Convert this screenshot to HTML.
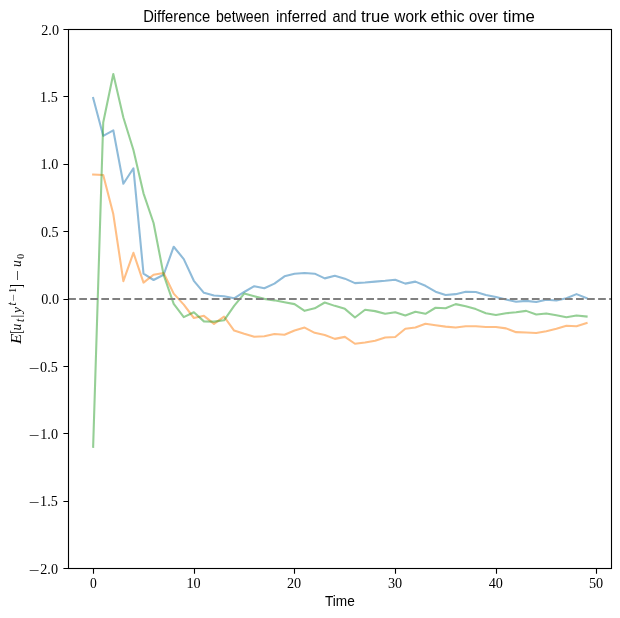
<!DOCTYPE html>
<html lang="en">
<head>
<meta charset="utf-8">
<title>Difference between inferred and true work ethic over time</title>
<style>
html,body{margin:0;padding:0;background:#fff;}
body{width:620px;height:618px;overflow:hidden;}
svg{display:block;}
.ser{fill:none;stroke-width:2.083;stroke-opacity:0.5;stroke-linejoin:round;stroke-linecap:square;}
.sans{font-family:"Liberation Sans","DejaVu Sans",sans-serif;fill:#000;}
.serif{font-family:"Liberation Serif","DejaVu Serif",serif;fill:#000;}
.it{font-style:italic;}
</style>
</head>
<body>
<svg width="620" height="618" viewBox="0 0 620 618">
<rect x="0" y="0" width="620" height="618" fill="#ffffff"/>
<defs><clipPath id="ax"><rect x="68.5" y="29.5" width="543.0" height="539.0"/></clipPath></defs>
<g clip-path="url(#ax)">
<polyline class="ser" stroke="#1f77b4" points="93.15,98.09 103.22,135.82 113.29,130.29 123.36,183.79 133.43,168.29 143.50,273.67 153.57,280.00 163.64,274.75 173.71,246.72 183.78,259.11 193.85,280.81 203.92,292.80 213.99,295.50 224.06,296.31 234.13,298.33 244.20,291.99 254.27,286.20 264.34,288.22 274.41,283.64 284.48,276.36 294.55,273.67 304.62,272.99 314.69,273.67 324.76,278.38 334.83,275.82 344.90,278.65 354.97,283.10 365.04,282.56 375.11,281.62 385.18,280.81 395.25,279.73 405.32,283.64 415.39,281.62 425.46,285.79 435.53,291.72 445.60,294.96 455.67,294.15 465.74,291.72 475.81,291.99 485.88,294.96 495.95,296.98 506.02,299.54 516.09,301.69 526.16,300.89 536.23,301.96 546.30,299.67 556.37,300.48 566.44,298.33 576.51,294.15 586.58,298.06"/>
<polyline class="ser" stroke="#ff7f0e" points="93.15,174.49 103.22,175.03 113.29,214.11 123.36,281.21 133.43,252.78 143.50,282.56 153.57,274.75 163.64,272.99 173.71,293.61 183.78,304.66 193.85,318.00 203.92,315.84 213.99,323.93 224.06,316.65 234.13,330.53 244.20,333.77 254.27,336.73 264.34,336.19 274.41,334.04 284.48,334.71 294.55,330.53 304.62,327.57 314.69,332.82 324.76,334.98 334.83,338.89 344.90,336.86 354.97,343.74 365.04,342.52 375.11,340.77 385.18,337.54 395.25,337.00 405.32,328.78 415.39,327.57 425.46,323.79 435.53,325.28 445.60,326.62 455.67,327.57 465.74,326.22 475.81,326.22 485.88,327.03 495.95,327.03 506.02,328.38 516.09,332.15 526.16,332.55 536.23,332.96 546.30,331.21 556.37,328.78 566.44,325.82 576.51,326.22 586.58,322.99"/>
<polyline class="ser" stroke="#2ca02c" points="93.15,446.82 103.22,122.48 113.29,73.97 123.36,117.49 133.43,149.97 143.50,193.36 153.57,223.00 163.64,275.01 173.71,303.85 183.78,317.19 193.85,312.21 203.92,321.37 213.99,321.64 224.06,320.29 234.13,305.87 244.20,293.61 254.27,296.17 264.34,298.87 274.41,300.35 284.48,302.23 294.55,304.12 304.62,310.86 314.69,308.30 324.76,302.50 334.83,305.87 344.90,308.84 354.97,317.46 365.04,309.78 375.11,311.13 385.18,313.69 395.25,312.21 405.32,315.44 415.39,311.67 425.46,313.82 435.53,307.76 445.60,308.30 455.67,304.12 465.74,306.28 475.81,309.11 485.88,313.28 495.95,315.04 506.02,313.28 516.09,312.21 526.16,310.86 536.23,314.50 546.30,313.42 556.37,315.30 566.44,317.19 576.51,315.44 586.58,316.52"/>
<line x1="68.2" y1="299" x2="611.5" y2="299" stroke="#808080" stroke-width="2.083" stroke-dasharray="7.71 3.33"/>
</g>
<rect x="68.5" y="29.5" width="543.0" height="539.0" fill="none" stroke="#000" stroke-width="1.11" shape-rendering="auto"/>
<path d="M93.50 568.5v5.3 M194.50 568.5v5.3 M294.50 568.5v5.3 M395.50 568.5v5.3 M496.50 568.5v5.3 M596.50 568.5v5.3 M68.5 29.50h-5.1 M68.5 96.50h-5.1 M68.5 164.50h-5.1 M68.5 231.50h-5.1 M68.5 299.50h-5.1 M68.5 366.50h-5.1 M68.5 433.50h-5.1 M68.5 501.50h-5.1 M68.5 568.50h-5.1" stroke="#000" stroke-width="1.11" fill="none"/>
<g class="serif" font-size="13.6" text-anchor="middle">
<text x="93.50" y="588">0</text>
<text x="193.50" y="588" textLength="14.2" lengthAdjust="spacingAndGlyphs">10</text>
<text x="294.10" y="588" textLength="14.2" lengthAdjust="spacingAndGlyphs">20</text>
<text x="395.10" y="588" textLength="14.2" lengthAdjust="spacingAndGlyphs">30</text>
<text x="495.80" y="588" textLength="14.2" lengthAdjust="spacingAndGlyphs">40</text>
<text x="596.10" y="588" textLength="14.2" lengthAdjust="spacingAndGlyphs">50</text>
</g>
<g class="serif" font-size="13.6">
<text><tspan x="59.0" y="35" text-anchor="end" textLength="17.7" lengthAdjust="spacingAndGlyphs">2.0</tspan></text>
<text><tspan x="57.8" y="102" text-anchor="end" textLength="17.7" lengthAdjust="spacingAndGlyphs">1.5</tspan></text>
<text><tspan x="58.3" y="169" text-anchor="end" textLength="17.7" lengthAdjust="spacingAndGlyphs">1.0</tspan></text>
<text><tspan x="58.7" y="237" text-anchor="end" textLength="17.7" lengthAdjust="spacingAndGlyphs">0.5</tspan></text>
<text><tspan x="59.0" y="304" text-anchor="end" textLength="17.7" lengthAdjust="spacingAndGlyphs">0.0</tspan></text>
<text><tspan x="28.8" y="373.25" textLength="10.8" lengthAdjust="spacingAndGlyphs">−</tspan><tspan x="57.8" y="372" text-anchor="end" textLength="17.7" lengthAdjust="spacingAndGlyphs">0.5</tspan></text>
<text><tspan x="28.8" y="440.25" textLength="10.8" lengthAdjust="spacingAndGlyphs">−</tspan><tspan x="58.0" y="439" text-anchor="end" textLength="17.7" lengthAdjust="spacingAndGlyphs">1.0</tspan></text>
<text><tspan x="28.8" y="507.25" textLength="10.8" lengthAdjust="spacingAndGlyphs">−</tspan><tspan x="57.8" y="506" text-anchor="end" textLength="17.7" lengthAdjust="spacingAndGlyphs">1.5</tspan></text>
<text><tspan x="28.8" y="575.25" textLength="10.8" lengthAdjust="spacingAndGlyphs">−</tspan><tspan x="58.0" y="574" text-anchor="end" textLength="17.7" lengthAdjust="spacingAndGlyphs">2.0</tspan></text>
</g>
<text class="sans" font-size="15.6" y="21.5"><tspan x="143.2" textLength="67.0" lengthAdjust="spacingAndGlyphs">Difference</tspan> <tspan x="216.0" textLength="53.4" lengthAdjust="spacingAndGlyphs">between</tspan> <tspan x="275.9" textLength="50.6" lengthAdjust="spacingAndGlyphs">inferred</tspan> <tspan x="332.5" textLength="24.2" lengthAdjust="spacingAndGlyphs">and</tspan> <tspan x="360.9" textLength="28.7" lengthAdjust="spacingAndGlyphs">true</tspan> <tspan x="394.3" textLength="32.5" lengthAdjust="spacingAndGlyphs">work</tspan> <tspan x="430.6" textLength="34.1" lengthAdjust="spacingAndGlyphs">ethic</tspan> <tspan x="468.9" textLength="29.0" lengthAdjust="spacingAndGlyphs">over</tspan> <tspan x="503.0" textLength="31.8" lengthAdjust="spacingAndGlyphs">time</tspan></text>
<text class="sans" font-size="13.8" x="325.0" y="605.8" textLength="29.8" lengthAdjust="spacingAndGlyphs">Time</text>
<text transform="translate(21 343.6) rotate(-90)" class="serif it" font-size="14"><tspan x="-0.3" y="0" font-size="15" textLength="10.2" lengthAdjust="spacingAndGlyphs">E</tspan><tspan x="10.2" y="0.9" font-size="16.5" font-style="normal" textLength="3.4" lengthAdjust="spacingAndGlyphs">[</tspan><tspan x="13.1" y="0.3" font-size="13.6">u</tspan><tspan x="21.6" y="3.0" font-size="11.5">t</tspan><tspan x="26.0" y="0" font-size="13.8" font-style="normal">|</tspan><tspan x="30.6" y="0" font-size="13.4">y</tspan><tspan x="38.0" y="-5.1" font-size="11.5">t</tspan><tspan x="42.2" y="-3.6" font-size="9.5" font-style="normal" textLength="7.4" lengthAdjust="spacingAndGlyphs">−</tspan><tspan x="50.8" y="-5.1" font-size="9.5" font-style="normal">1</tspan><tspan x="55.9" y="0.9" font-size="16.5" font-style="normal" textLength="3.4" lengthAdjust="spacingAndGlyphs">]</tspan><tspan x="62.8" y="1.4" font-size="14" font-style="normal" textLength="10.8" lengthAdjust="spacingAndGlyphs">−</tspan><tspan x="76.6" y="0.3" font-size="13.6">u</tspan><tspan x="84.8" y="3.2" font-size="9.5" font-style="normal">0</tspan></text>
</svg>
</body>
</html>
